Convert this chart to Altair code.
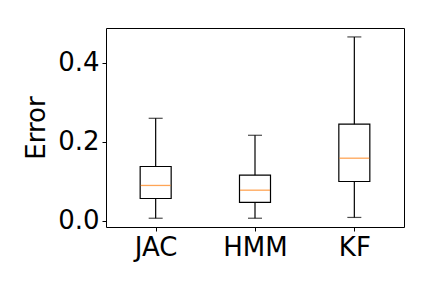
import altair as alt
import pandas as pd

categories = ["JAC", "HMM", "KF"]
whisker_low = [0.007, 0.007, 0.009]
q1 = [0.057, 0.047, 0.100]
median = [0.090, 0.078, 0.159]
q3 = [0.138, 0.116, 0.245]
whisker_high = [0.260, 0.217, 0.466]

df = pd.DataFrame({
    "cat": categories,
    "lo": whisker_low,
    "q1": q1,
    "med": median,
    "q3": q3,
    "hi": whisker_high,
})

FONT = "DejaVu Sans"
FS = 26

x = alt.X("cat:N", sort=categories, title=None,
          scale=alt.Scale(type="point", padding=0.5),
          axis=alt.Axis(labelAngle=0, labelFont=FONT, labelFontSize=FS, labelColor="black",
                        tickColor="black", tickSize=4, labelPadding=3, domain=False, grid=False))
yscale = alt.Scale(domain=[-0.0152, 0.4886], nice=False, zero=False)
yaxis = alt.Axis(values=[0.0, 0.2, 0.4], format=".1f", title="Error",
                 labelFont=FONT, labelFontSize=FS, labelColor="black",
                 titleFont=FONT, titleFontSize=FS, titleFontWeight="normal", titleColor="black",
                 titlePadding=8, tickColor="black", tickSize=4, labelPadding=3,
                 domain=False, grid=False)

base = alt.Chart(df)

whisk = base.mark_rule(color="black", strokeWidth=1.2).encode(
    x=x, y=alt.Y("lo:Q", scale=yscale, axis=yaxis), y2="hi:Q")
box = base.mark_bar(size=31, fill="white", stroke="black", strokeWidth=1.2).encode(
    x=x, y=alt.Y("q1:Q", scale=yscale), y2="q3:Q")
med = base.mark_tick(size=30, thickness=1.3, color="#ff7f0e").encode(
    x=x, y=alt.Y("med:Q", scale=yscale))
cap_lo = base.mark_tick(size=14, thickness=1.2, color="black").encode(
    x=x, y=alt.Y("lo:Q", scale=yscale))
cap_hi = base.mark_tick(size=14, thickness=1.2, color="black").encode(
    x=x, y=alt.Y("hi:Q", scale=yscale))

chart = alt.layer(whisk, box, med, cap_lo, cap_hi).properties(
    width=298, height=199,
    autosize=alt.AutoSizeParams(type="none"),
    padding={"left": 98, "top": 20, "right": 20, "bottom": 53},
    background="white",
).configure_view(stroke="black", strokeWidth=1)

chart.save("out.html", embed_options={"renderer": "svg", "actions": False})
